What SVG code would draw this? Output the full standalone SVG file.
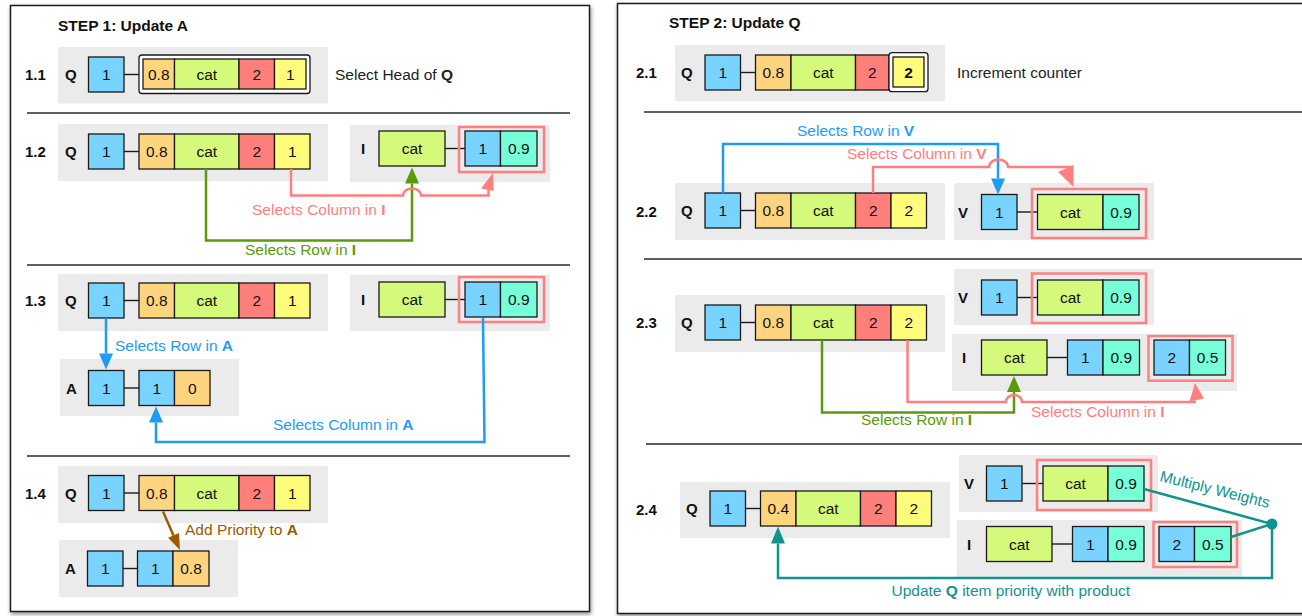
<svg xmlns="http://www.w3.org/2000/svg" width="1302" height="616" viewBox="0 0 1302 616">
  <style>
    text { font-family: "Liberation Sans", Arial, sans-serif; }
    .frame { fill: #fff; stroke: #1e1e1e; stroke-width: 1.5; }
    .rule { stroke: #2a2a2a; stroke-width: 1.5; }
    .bg { fill: #ebebeb; }
    .cell { stroke: #1a1a1a; stroke-width: 1.3; }
    .blue { fill: #79d3ff; }
    .orange { fill: #ffd47f; }
    .green { fill: #d5f97b; }
    .red { fill: #ff7f7a; }
    .yellow { fill: #fffc7c; }
    .teal { fill: #76ffd8; }
    .link { stroke: #1a1a1a; stroke-width: 1.4; }
    .hl { fill: none; stroke: #ff8080; stroke-width: 2.5; }
    .head { fill: #fff; stroke: #1a1a1a; stroke-width: 1.3; }
    .val { font-size: 15.5px; fill: #111; text-anchor: middle; }
    .lbl { font-size: 15px; font-weight: bold; fill: #111; }
    .title { font-size: 15.5px; font-weight: bold; fill: #111; }
    .note { font-size: 15.5px; fill: #222; }
    .cap { font-size: 15.5px; }
    .c-blue { fill: #1e9bf5; }
    .c-pink { fill: #ff7f7f; }
    .c-green { fill: #5b9a0b; }
    .c-brown { fill: #9c5a00; }
    .c-teal { fill: #13938f; }
    .w { fill: none; stroke-width: 2.5; }
    .s-blue { stroke: #1e9bf5; }
    .s-pink { stroke: #ff7f7f; }
    .s-green { stroke: #5b9a0b; }
    .s-brown { stroke: #9c5a00; }
    .s-teal { stroke: #13938f; }
    b, .b { font-weight: bold; }
  </style>
  <defs>
    <filter id="shadow" x="-5%" y="-5%" width="110%" height="110%">
      <feDropShadow dx="1" dy="2" stdDeviation="2" flood-color="#000" flood-opacity="0.45"/>
    </filter>
    <marker id="ah-blue" markerUnits="userSpaceOnUse" markerWidth="16" markerHeight="14" refX="0" refY="7" orient="auto" overflow="visible">
      <path d="M0,0 L16,7 L0,14 z" fill="#1e9bf5"/>
    </marker>
    <marker id="ah-green" markerUnits="userSpaceOnUse" markerWidth="16" markerHeight="14" refX="0" refY="7" orient="auto" overflow="visible">
      <path d="M0,0 L16,7 L0,14 z" fill="#5b9a0b"/>
    </marker>
    <marker id="ah-teal" markerUnits="userSpaceOnUse" markerWidth="16" markerHeight="14" refX="0" refY="7" orient="auto" overflow="visible">
      <path d="M0,0 L17,7 L0,14 z" fill="#13938f"/>
    </marker>
    <marker id="ah-brown" markerUnits="userSpaceOnUse" markerWidth="16" markerHeight="12" refX="0" refY="6" orient="auto" overflow="visible">
      <path d="M0,0 L16,6 L0,12 z" fill="#9c5a00"/>
    </marker>
  </defs>

  <!-- panel frames -->
  <rect class="frame" x="10.5" y="5.5" width="579" height="606" filter="url(#shadow)"/>
  <rect class="frame" x="617.5" y="3.5" width="700" height="610" filter="url(#shadow)"/>

  <text class="title" x="58" y="31">STEP 1: Update A</text>
  <text class="title" x="669" y="27.5">STEP 2: Update Q</text>

  <!-- section rules -->
  <g id="rules">
    <line class="rule" x1="27" y1="113" x2="570" y2="113"/>
    <line class="rule" x1="27" y1="265" x2="570" y2="265"/>
    <line class="rule" x1="27" y1="456" x2="570" y2="456"/>
    <line class="rule" x1="644" y1="112" x2="1302" y2="112"/>
    <line class="rule" x1="644" y1="259" x2="1302" y2="259"/>
    <line class="rule" x1="646" y1="444" x2="1302" y2="444"/>
  </g>

  <!-- step labels -->
  <g id="step-labels">
    <text class="lbl" x="25" y="80">1.1</text>
    <text class="lbl" x="25" y="157">1.2</text>
    <text class="lbl" x="25" y="306">1.3</text>
    <text class="lbl" x="25" y="499">1.4</text>
    <text class="lbl" x="636" y="78">2.1</text>
    <text class="lbl" x="636" y="217">2.2</text>
    <text class="lbl" x="636" y="328">2.3</text>
    <text class="lbl" x="636" y="515">2.4</text>
  </g>

  <!-- 1.1 queue with head highlighted -->
  <g id="q11" transform="translate(88.5,57)">
    <rect class="bg" x="-30.5" y="-10" width="270" height="56.5"/>
    <text class="lbl" x="-23.5" y="23">Q</text>
    <rect class="cell blue" x="0" y="0" width="35.5" height="35"/>
    <text class="val" x="17.75" y="23">1</text>
    <line class="link" x1="35.5" y1="17.5" x2="50.5" y2="17.5"/>
    <rect class="head" x="50.5" y="-2" width="171" height="38.5" rx="3"/>
    <rect class="cell orange" x="54.5" y="2" width="31.5" height="30"/>
    <rect class="cell green" x="86" y="2" width="64.5" height="30"/>
    <rect class="cell red" x="150.5" y="2" width="35.5" height="30"/>
    <rect class="cell yellow" x="186" y="2" width="31.5" height="30"/>
    <text class="val" x="70.25" y="23">0.8</text>
    <text class="val" x="118.25" y="23">cat</text>
    <text class="val" x="168.25" y="23">2</text>
    <text class="val" x="201.75" y="23">1</text>
  </g>
  <text class="note" x="335" y="80">Select Head of <tspan class="b">Q</tspan></text>

  <!-- 1.2 queue -->
  <g id="q12" transform="translate(88.5,134)">
    <rect class="bg" x="-30.5" y="-10" width="270" height="57"/>
    <text class="lbl" x="-23.5" y="23">Q</text>
    <rect class="cell blue" x="0" y="0" width="35.5" height="35"/>
    <line class="link" x1="35.5" y1="17.5" x2="50.5" y2="17.5"/>
    <rect class="cell orange" x="50.5" y="0" width="35.5" height="35"/>
    <rect class="cell green" x="86" y="0" width="64.5" height="35"/>
    <rect class="cell red" x="150.5" y="0" width="35.5" height="35"/>
    <rect class="cell yellow" x="186" y="0" width="35.5" height="35"/>
    <text class="val" x="17.75" y="23">1</text>
    <text class="val" x="68.25" y="23">0.8</text>
    <text class="val" x="118.25" y="23">cat</text>
    <text class="val" x="168.25" y="23">2</text>
    <text class="val" x="203.75" y="23">1</text>
  </g>

  <!-- 1.2 index -->
  <g id="i12" transform="translate(379,131)">
    <rect class="bg" x="-29" y="-6" width="200" height="57"/>
    <text class="lbl" x="-18" y="23">I</text>
    <rect class="cell green" x="0" y="0" width="66" height="35"/>
    <text class="val" x="33" y="23">cat</text>
    <line class="link" x1="66" y1="17.5" x2="86" y2="17.5"/>
    <rect class="cell blue" x="86" y="0" width="35.5" height="35"/>
    <rect class="cell teal" x="121.5" y="0" width="36.5" height="35"/>
    <text class="val" x="103.75" y="23">1</text>
    <text class="val" x="139.75" y="23">0.9</text>
    <rect class="hl" x="80" y="-4" width="85" height="45"/>
  </g>

  <!-- 1.3 queue -->
  <g id="q13" transform="translate(88.5,283)">
    <rect class="bg" x="-30.5" y="-9" width="270" height="57"/>
    <text class="lbl" x="-23.5" y="23">Q</text>
    <rect class="cell blue" x="0" y="0" width="35.5" height="35"/>
    <line class="link" x1="35.5" y1="17.5" x2="50.5" y2="17.5"/>
    <rect class="cell orange" x="50.5" y="0" width="35.5" height="35"/>
    <rect class="cell green" x="86" y="0" width="64.5" height="35"/>
    <rect class="cell red" x="150.5" y="0" width="35.5" height="35"/>
    <rect class="cell yellow" x="186" y="0" width="35.5" height="35"/>
    <text class="val" x="17.75" y="23">1</text>
    <text class="val" x="68.25" y="23">0.8</text>
    <text class="val" x="118.25" y="23">cat</text>
    <text class="val" x="168.25" y="23">2</text>
    <text class="val" x="203.75" y="23">1</text>
  </g>

  <!-- 1.3 index -->
  <g id="i13" transform="translate(379,282)">
    <rect class="bg" x="-29" y="-7" width="200" height="56"/>
    <text class="lbl" x="-18" y="23">I</text>
    <rect class="cell green" x="0" y="0" width="66" height="35"/>
    <text class="val" x="33" y="23">cat</text>
    <line class="link" x1="66" y1="17.5" x2="86" y2="17.5"/>
    <rect class="cell blue" x="86" y="0" width="35.5" height="35"/>
    <rect class="cell teal" x="121.5" y="0" width="36.5" height="35"/>
    <text class="val" x="103.75" y="23">1</text>
    <text class="val" x="139.75" y="23">0.9</text>
    <rect class="hl" x="80" y="-5" width="85" height="45"/>
  </g>

  <!-- 1.3 accumulator -->
  <g id="a13" transform="translate(88.5,370.5)">
    <rect class="bg" x="-28.5" y="-11.5" width="179" height="57"/>
    <text class="lbl" x="-22.5" y="23">A</text>
    <rect class="cell blue" x="0" y="0" width="35.5" height="35"/>
    <line class="link" x1="35.5" y1="17.5" x2="50.5" y2="17.5"/>
    <rect class="cell blue" x="50.5" y="0" width="35.5" height="35"/>
    <rect class="cell orange" x="86" y="0" width="35.5" height="35"/>
    <text class="val" x="17.75" y="23">1</text>
    <text class="val" x="68.25" y="23">1</text>
    <text class="val" x="103.75" y="23">0</text>
  </g>

  <!-- 1.4 queue -->
  <g id="q14" transform="translate(88.5,475.5)">
    <rect class="bg" x="-30.5" y="-9.5" width="270" height="57"/>
    <text class="lbl" x="-23.5" y="23">Q</text>
    <rect class="cell blue" x="0" y="0" width="35.5" height="35"/>
    <line class="link" x1="35.5" y1="17.5" x2="50.5" y2="17.5"/>
    <rect class="cell orange" x="50.5" y="0" width="35.5" height="35"/>
    <rect class="cell green" x="86" y="0" width="64.5" height="35"/>
    <rect class="cell red" x="150.5" y="0" width="35.5" height="35"/>
    <rect class="cell yellow" x="186" y="0" width="35.5" height="35"/>
    <text class="val" x="17.75" y="23">1</text>
    <text class="val" x="68.25" y="23">0.8</text>
    <text class="val" x="118.25" y="23">cat</text>
    <text class="val" x="168.25" y="23">2</text>
    <text class="val" x="203.75" y="23">1</text>
  </g>

  <!-- 1.4 accumulator -->
  <g id="a14" transform="translate(87.5,551)">
    <rect class="bg" x="-28.5" y="-11" width="179" height="57"/>
    <text class="lbl" x="-22.5" y="23">A</text>
    <rect class="cell blue" x="0" y="0" width="35.5" height="35"/>
    <line class="link" x1="35.5" y1="17.5" x2="50" y2="17.5"/>
    <rect class="cell blue" x="50" y="0" width="35.5" height="35"/>
    <rect class="cell orange" x="85.5" y="0" width="36" height="35"/>
    <text class="val" x="17.75" y="23">1</text>
    <text class="val" x="67.75" y="23">1</text>
    <text class="val" x="103.5" y="23">0.8</text>
  </g>

  <!-- 2.1 queue with counter highlighted -->
  <g id="q21" transform="translate(705,55)">
    <rect class="bg" x="-30" y="-10" width="270" height="56"/>
    <text class="lbl" x="-24" y="23">Q</text>
    <rect class="cell blue" x="0" y="0" width="35.5" height="35"/>
    <line class="link" x1="35.5" y1="17.5" x2="50.5" y2="17.5"/>
    <rect class="cell orange" x="50.5" y="0" width="35.5" height="35"/>
    <rect class="cell green" x="86" y="0" width="64.5" height="35"/>
    <rect class="cell red" x="150.5" y="0" width="33.5" height="35"/>
    <rect class="head" x="184" y="-2.3" width="39" height="39" rx="3"/>
    <rect class="cell yellow" x="188" y="2" width="31" height="30"/>
    <text class="val" x="17.75" y="23">1</text>
    <text class="val" x="68.25" y="23">0.8</text>
    <text class="val" x="118.25" y="23">cat</text>
    <text class="val" x="167.25" y="23">2</text>
    <text class="val b" x="203.5" y="23">2</text>
  </g>
  <text class="note" x="957" y="78">Increment counter</text>

  <!-- 2.2 queue -->
  <g id="q22" transform="translate(705,193)">
    <rect class="bg" x="-30" y="-10" width="270" height="57"/>
    <text class="lbl" x="-24" y="23">Q</text>
    <rect class="cell blue" x="0" y="0" width="35.5" height="35"/>
    <line class="link" x1="35.5" y1="17.5" x2="50.5" y2="17.5"/>
    <rect class="cell orange" x="50.5" y="0" width="35.5" height="35"/>
    <rect class="cell green" x="86" y="0" width="64.5" height="35"/>
    <rect class="cell red" x="150.5" y="0" width="35.5" height="35"/>
    <rect class="cell yellow" x="186" y="0" width="35.5" height="35"/>
    <text class="val" x="17.75" y="23">1</text>
    <text class="val" x="68.25" y="23">0.8</text>
    <text class="val" x="118.25" y="23">cat</text>
    <text class="val" x="168.25" y="23">2</text>
    <text class="val" x="203.75" y="23">2</text>
  </g>

  <!-- 2.2 vocabulary -->
  <g id="v22" transform="translate(981.5,194.5)">
    <rect class="bg" x="-27.5" y="-11.5" width="200" height="57"/>
    <text class="lbl" x="-23.5" y="23">V</text>
    <rect class="cell blue" x="0" y="0" width="35.5" height="35"/>
    <line class="link" x1="35.5" y1="17.5" x2="56" y2="17.5"/>
    <rect class="cell green" x="56" y="0" width="65.5" height="35"/>
    <rect class="cell teal" x="121.5" y="0" width="36" height="35"/>
    <text class="val" x="17.75" y="23">1</text>
    <text class="val" x="88.75" y="23">cat</text>
    <text class="val" x="139.5" y="23">0.9</text>
    <rect class="hl" x="50.5" y="-5.5" width="114" height="49"/>
  </g>

  <!-- 2.3 queue -->
  <g id="q23" transform="translate(705,305)">
    <rect class="bg" x="-30" y="-10" width="270" height="57"/>
    <text class="lbl" x="-24" y="23">Q</text>
    <rect class="cell blue" x="0" y="0" width="35.5" height="35"/>
    <line class="link" x1="35.5" y1="17.5" x2="50.5" y2="17.5"/>
    <rect class="cell orange" x="50.5" y="0" width="35.5" height="35"/>
    <rect class="cell green" x="86" y="0" width="64.5" height="35"/>
    <rect class="cell red" x="150.5" y="0" width="35.5" height="35"/>
    <rect class="cell yellow" x="186" y="0" width="35.5" height="35"/>
    <text class="val" x="17.75" y="23">1</text>
    <text class="val" x="68.25" y="23">0.8</text>
    <text class="val" x="118.25" y="23">cat</text>
    <text class="val" x="168.25" y="23">2</text>
    <text class="val" x="203.75" y="23">2</text>
  </g>

  <!-- 2.3 vocabulary -->
  <g id="v23" transform="translate(981.5,280)">
    <rect class="bg" x="-27.5" y="-11" width="200" height="56"/>
    <text class="lbl" x="-23.5" y="23">V</text>
    <rect class="cell blue" x="0" y="0" width="35.5" height="35"/>
    <line class="link" x1="35.5" y1="17.5" x2="56" y2="17.5"/>
    <rect class="cell green" x="56" y="0" width="65.5" height="35"/>
    <rect class="cell teal" x="121.5" y="0" width="36" height="35"/>
    <text class="val" x="17.75" y="23">1</text>
    <text class="val" x="88.75" y="23">cat</text>
    <text class="val" x="139.5" y="23">0.9</text>
    <rect class="hl" x="50.5" y="-6.5" width="114" height="49.5"/>
  </g>

  <!-- 2.3 index -->
  <g id="i23" transform="translate(981.5,340)">
    <rect class="bg" x="-29.5" y="-6" width="285" height="57"/>
    <text class="lbl" x="-19.5" y="23">I</text>
    <rect class="cell green" x="0" y="0" width="65.5" height="35"/>
    <text class="val" x="32.75" y="23">cat</text>
    <line class="link" x1="65.5" y1="17.5" x2="86" y2="17.5"/>
    <rect class="cell blue" x="86" y="0" width="35.5" height="35"/>
    <rect class="cell teal" x="121.5" y="0" width="36.5" height="35"/>
    <text class="val" x="103.75" y="23">1</text>
    <text class="val" x="139.75" y="23">0.9</text>
    <rect class="cell blue" x="172.5" y="0" width="35.5" height="35"/>
    <rect class="cell teal" x="208" y="0" width="36" height="35"/>
    <text class="val" x="190.25" y="23">2</text>
    <text class="val" x="226" y="23">0.5</text>
    <rect class="hl" x="167" y="-4" width="84" height="44.7"/>
  </g>

  <!-- 2.4 queue -->
  <g id="q24" transform="translate(710,491)">
    <rect class="bg" x="-30" y="-9" width="270" height="56"/>
    <text class="lbl" x="-24" y="23">Q</text>
    <rect class="cell blue" x="0" y="0" width="35.5" height="35"/>
    <line class="link" x1="35.5" y1="17.5" x2="50.5" y2="17.5"/>
    <rect class="cell orange" x="50.5" y="0" width="35.5" height="35"/>
    <rect class="cell green" x="86" y="0" width="64.5" height="35"/>
    <rect class="cell red" x="150.5" y="0" width="35.5" height="35"/>
    <rect class="cell yellow" x="186" y="0" width="35.5" height="35"/>
    <text class="val" x="17.75" y="23">1</text>
    <text class="val" x="68.25" y="23">0.4</text>
    <text class="val" x="118.25" y="23">cat</text>
    <text class="val" x="168.25" y="23">2</text>
    <text class="val" x="203.75" y="23">2</text>
  </g>

  <!-- 2.4 vocabulary -->
  <g id="v24" transform="translate(986.5,466)">
    <rect class="bg" x="-27.5" y="-11" width="199" height="57"/>
    <text class="lbl" x="-22.5" y="23">V</text>
    <rect class="cell blue" x="0" y="0" width="35.5" height="35"/>
    <line class="link" x1="35.5" y1="17.5" x2="56.5" y2="17.5"/>
    <rect class="cell green" x="56.5" y="0" width="65" height="35"/>
    <rect class="cell teal" x="121.5" y="0" width="36" height="35"/>
    <text class="val" x="17.75" y="23">1</text>
    <text class="val" x="89" y="23">cat</text>
    <text class="val" x="139.5" y="23">0.9</text>
    <rect class="hl" x="50.5" y="-6" width="114" height="50"/>
  </g>

  <!-- 2.4 index -->
  <g id="i24" transform="translate(986.5,526.5)">
    <rect class="bg" x="-29.5" y="-6.5" width="285" height="57"/>
    <text class="lbl" x="-19.5" y="23">I</text>
    <rect class="cell green" x="0" y="0" width="65.5" height="35"/>
    <text class="val" x="32.75" y="23">cat</text>
    <line class="link" x1="65.5" y1="17.5" x2="86" y2="17.5"/>
    <rect class="cell blue" x="86" y="0" width="35.5" height="35"/>
    <rect class="cell teal" x="121.5" y="0" width="36" height="35"/>
    <text class="val" x="103.75" y="23">1</text>
    <text class="val" x="139.5" y="23">0.9</text>
    <rect class="cell blue" x="172.5" y="0" width="35.5" height="35"/>
    <rect class="cell teal" x="208" y="0" width="36.5" height="35"/>
    <text class="val" x="190.25" y="23">2</text>
    <text class="val" x="226.25" y="23">0.5</text>
    <rect class="hl" x="167" y="-4.5" width="83.5" height="45"/>
  </g>

  <!-- connectors -->
  <g id="connectors">
    <!-- 1.2 -->
    <path class="w s-green" d="M206,169 V240.5 H412 V183.5" marker-end="url(#ah-green)"/>
    <path class="w s-pink" d="M291,169 V195.5 H403 A9,7 0 0 1 421,195.5 H488.5 V189"/>
    <polygon class="c-pink" points="481,188.5 493,173 493.5,191"/>
    <text class="cap c-pink" x="252" y="215">Selects Column in <tspan class="b">I</tspan></text>
    <text class="cap c-green" x="245" y="255">Selects Row in <tspan class="b">I</tspan></text>

    <!-- 1.3 -->
    <path class="w s-blue" d="M106,318 V353.5" marker-end="url(#ah-blue)"/>
    <text class="cap c-blue" x="115" y="351">Selects Row in <tspan class="b">A</tspan></text>
    <path class="w s-blue" d="M483,318 L484.5,442 H156 V422.5" marker-end="url(#ah-blue)"/>
    <text class="cap c-blue" x="273" y="430">Selects Column in <tspan class="b">A</tspan></text>

    <!-- 1.4 -->
    <path class="w s-brown" d="M163,511.5 L173.5,535.4" marker-end="url(#ah-brown)"/>
    <text class="cap c-brown" x="185" y="535">Add Priority to <tspan class="b">A</tspan></text>

    <!-- 2.2 -->
    <path class="w s-blue" d="M723,193 V144 H998 V178.5" marker-end="url(#ah-blue)"/>
    <text class="cap c-blue" x="797" y="136">Selects Row in <tspan class="b">V</tspan></text>
    <path class="w s-pink" d="M873,193 V167 H989 A9.5,7.5 0 0 1 1008,167 H1073"/>
    <polygon class="c-pink" points="1058,172 1073.5,165 1073.5,187"/>
    <text class="cap c-pink" x="847" y="159">Selects Column in <tspan class="b">V</tspan></text>

    <!-- 2.3 -->
    <path class="w s-green" d="M822,340 V412.5 H1014 V392" marker-end="url(#ah-green)"/>
    <text class="cap c-green" x="861" y="425">Selects Row in <tspan class="b">I</tspan></text>
    <path class="w s-pink" d="M907.5,340 V402 H1006 A8,7 0 0 1 1022,402 H1196"/>
    <polygon class="c-pink" points="1189.5,401.5 1195,383 1204,398.5"/>
    <text class="cap c-pink" x="1031" y="417">Selects Column in <tspan class="b">I</tspan></text>

    <!-- 2.4 -->
    <path class="w s-teal" d="M1144,489 L1272,524 M1231,537 L1272,524"/>
    <circle class="c-teal" cx="1272" cy="524" r="5.5"/>
    <path class="w s-teal" d="M1272,524 V578 H778 V543.5" marker-end="url(#ah-teal)"/>
    <text class="cap c-teal" x="1159" y="481" transform="rotate(14 1159 481)">Multiply Weights</text>
    <text class="cap c-teal" x="891.5" y="596">Update <tspan class="b">Q</tspan> item priority with product</text>
  </g>
</svg>
